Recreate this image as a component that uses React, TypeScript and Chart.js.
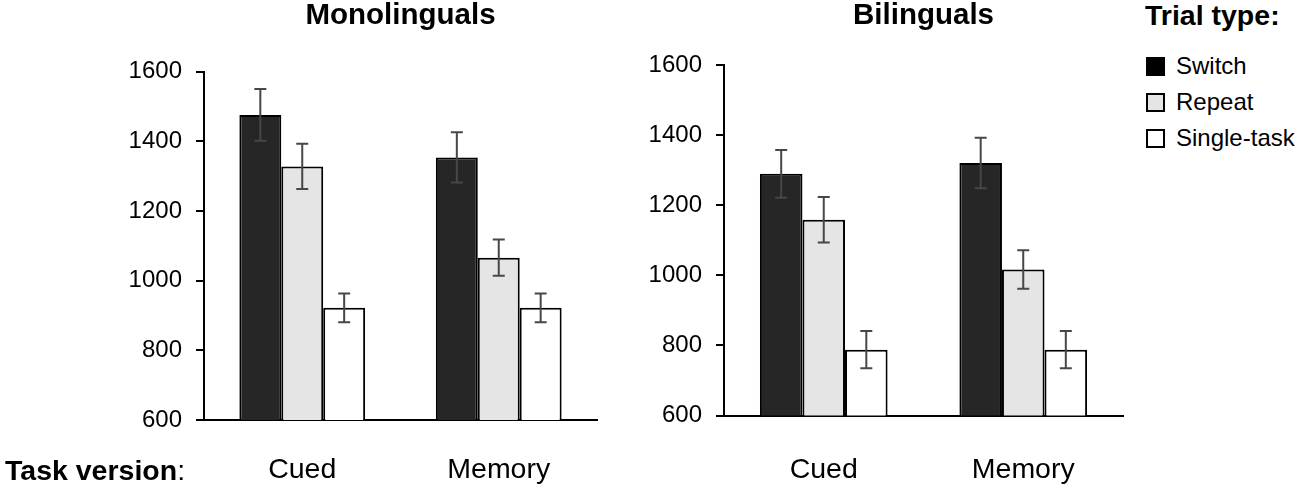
import { useEffect, useRef } from 'react';
import { Chart, registerables } from 'chart.js';

Chart.register(...registerables);

const FONT = "'Liberation Sans', Arial, Helvetica, sans-serif";

// categories and tick range
const taskVersions = ['Cued', 'Memory'];
const trialTypes = ['Switch', 'Repeat', 'Single-task'];
const yMin = 600;
const yMax = 1600;
const yStep = 200;

// Monolinguals (mean RT, error)
const monoSwitch = [1476, 1354];
const monoSwitchErr = [74, 72];
const monoRepeat = [1328, 1066];
const monoRepeatErr = [65, 52];
const monoSingle = [922, 922];
const monoSingleErr = [41, 41];

// Bilinguals (mean RT, error)
const biSwitch = [1290, 1321];
const biSwitchErr = [68, 72];
const biRepeat = [1159, 1017];
const biRepeatErr = [65, 55];
const biSingle = [788, 788];
const biSingleErr = [53, 53];

const fills = ['#262626', '#e5e5e5', '#ffffff'];
const legendFills = ['#000000', '#e5e5e5', '#ffffff'];

// draws the error bars on top of each bar, using the chart scales
const errorBarPlugin = {
  id: 'errorBars',
  afterDatasetsDraw(chart: any) {
    const ctx = chart.ctx;
    const yScale = chart.scales.y;
    ctx.save();
    ctx.strokeStyle = '#474747';
    ctx.lineWidth = 2;
    chart.data.datasets.forEach((ds: any, i: number) => {
      const meta = chart.getDatasetMeta(i);
      meta.data.forEach((bar: any, j: number) => {
        const v = ds.data[j];
        const e = ds.errors[j];
        const top = yScale.getPixelForValue(v + e);
        const bottom = yScale.getPixelForValue(v - e);
        const x = bar.x;
        ctx.beginPath();
        ctx.moveTo(x, top);
        ctx.lineTo(x, bottom);
        ctx.moveTo(x - 6, top);
        ctx.lineTo(x + 6, top);
        ctx.moveTo(x - 6, bottom);
        ctx.lineTo(x + 6, bottom);
        ctx.stroke();
      });
    });
    ctx.restore();
  },
};

type PanelProps = {
  title: string;
  series: number[][];
  errors: number[][];
  left: number;
  width: number;
  padLeft: number;
  padRight: number;
  titleGap: number;
  xAxisHeight: number;
  xLabelPad: number;
};

function Panel(props: PanelProps) {
  const chartRef = useRef<HTMLCanvasElement>(null);
  const chartInstance = useRef<Chart | null>(null);

  useEffect(() => {
    if (!chartRef.current) return;
    if (chartInstance.current) chartInstance.current.destroy();

    chartInstance.current = new Chart(chartRef.current, {
      type: 'bar',
      data: {
        labels: taskVersions,
        datasets: trialTypes.map((name, i) => ({
          label: name,
          data: props.series[i],
          errors: props.errors[i],
          backgroundColor: fills[i],
          borderColor: '#000000',
          borderWidth: 2,
          categoryPercentage: 0.64,
          barPercentage: 1,
        })) as any,
      },
      options: {
        responsive: true,
        maintainAspectRatio: false,
        animation: false,
        layout: {
          padding: { left: props.padLeft, right: props.padRight, top: 0, bottom: 0 },
        },
        plugins: {
          legend: { display: false },
          tooltip: { enabled: false },
          title: {
            display: true,
            text: props.title,
            fullSize: false,
            color: '#000',
            font: { family: FONT, size: 29.5, weight: 'bold', lineHeight: 1 },
            padding: { top: 1, bottom: props.titleGap },
          },
        },
        scales: {
          x: {
            grid: { display: false, drawTicks: false },
            border: { display: true, color: '#000', width: 2 },
            ticks: {
              color: '#000',
              font: { family: FONT, size: 28.5 },
              padding: props.xLabelPad,
            },
            afterFit: (scale: any) => {
              scale.height = props.xAxisHeight;
            },
          },
          y: {
            min: yMin,
            max: yMax,
            grid: {
              display: true,
              drawOnChartArea: false,
              drawTicks: true,
              tickLength: 8,
              color: '#000',
              lineWidth: 2,
            },
            border: { display: true, color: '#000', width: 2 },
            ticks: {
              stepSize: yStep,
              color: '#000',
              font: { family: FONT, size: 24 },
              padding: 14,
              callback: (value: any) => String(value),
            },
            afterFit: (scale: any) => {
              scale.width = 100;
            },
          },
        },
      },
      plugins: [errorBarPlugin],
    });

    return () => {
      if (chartInstance.current) {
        chartInstance.current.destroy();
        chartInstance.current = null;
      }
    };
  }, []);

  return (
    <div style={{ position: 'absolute', left: props.left, top: 0, width: props.width, height: 490 }}>
      <canvas ref={chartRef}></canvas>
    </div>
  );
}

export default function App() {
  return (
    <div
      style={{
        position: 'absolute',
        left: 0,
        top: 0,
        width: 1300,
        height: 490,
        background: '#fff',
        fontFamily: FONT,
        color: '#000',
      }}
    >
      <Panel
        title="Monolinguals"
        series={[monoSwitch, monoRepeat, monoSingle]}
        errors={[monoSwitchErr, monoRepeatErr, monoSingleErr]}
        left={0}
        width={620}
        padLeft={104}
        padRight={23}
        titleGap={41.2}
        xAxisHeight={70}
        xLabelPad={33}
      />
      <Panel
        title="Bilinguals"
        series={[biSwitch, biRepeat, biSingle]}
        errors={[biSwitchErr, biRepeatErr, biSingleErr]}
        left={620}
        width={520}
        padLeft={4}
        padRight={17}
        titleGap={34.8}
        xAxisHeight={74.5}
        xLabelPad={37.5}
      />

      <div style={{ position: 'absolute', left: 5, top: 456, fontSize: 28.5, lineHeight: '28px', whiteSpace: 'nowrap' }}>
        <b>Task version</b>:
      </div>

      <div style={{ position: 'absolute', left: 1145, top: 1, fontSize: 28.5, lineHeight: '28px', fontWeight: 'bold', whiteSpace: 'nowrap' }}>
        Trial type:
      </div>
      {trialTypes.map((name, i) => (
        <div key={name}>
          <div
            style={{
              position: 'absolute',
              left: 1146,
              top: 57 + i * 36,
              width: 19,
              height: 19,
              boxSizing: 'border-box',
              border: '2px solid #000',
              background: legendFills[i],
            }}
          />
          <div
            style={{
              position: 'absolute',
              left: 1176,
              top: 54 + i * 36,
              fontSize: 24,
              lineHeight: '24px',
              whiteSpace: 'nowrap',
            }}
          >
            {name}
          </div>
        </div>
      ))}
    </div>
  );
}
